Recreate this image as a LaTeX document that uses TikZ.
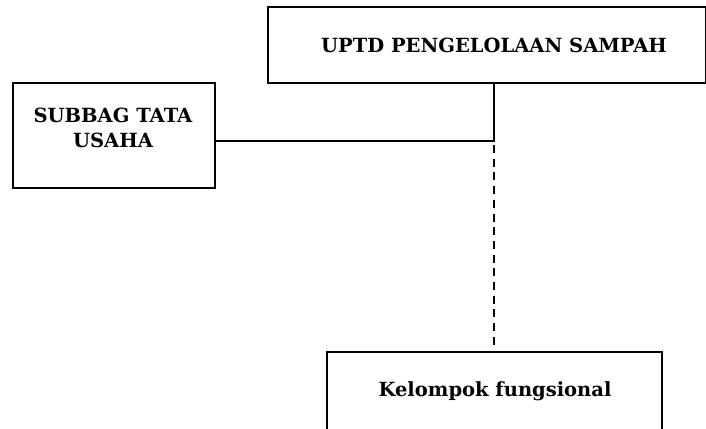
\documentclass[tikz,border=0pt]{standalone}
\usepackage{fontspec}
\setmainfont{DejaVu Serif}
\begin{document}
\begin{tikzpicture}[x=1pt,y=-1pt,
  box/.style={draw, line width=1.6pt, inner sep=0pt},
  lbl/.style={font=\bfseries\fontsize{19.5}{25}\selectfont, align=center},
  conn/.style={line width=1.4pt}]
\useasboundingbox (0,0) rectangle (706,428);
\draw[box] (268,7) rectangle (706,83);
\node[lbl] (top) at (494,45) {UPTD PENGELOLAAN SAMPAH};
\draw[box] (13,83) rectangle (215,188);
\node[lbl] (sub) at (113,128) {SUBBAG TATA\\USAHA};
\draw[box] (327,352) rectangle (662,432);
\node[lbl] (kel) at (495,391) {Kelompok fungsional};
\coordinate (tb) at (494,83);
\coordinate (jn) at (494,141);
\coordinate (sr) at (215,141);
\coordinate (ds) at (494,145);
\coordinate (kt) at (494,352);
\draw[conn] (tb) -- (jn) -- (sr);
\draw[conn, dash pattern=on 8pt off 5.7pt] (ds) -- (kt);
\end{tikzpicture}
\end{document}
